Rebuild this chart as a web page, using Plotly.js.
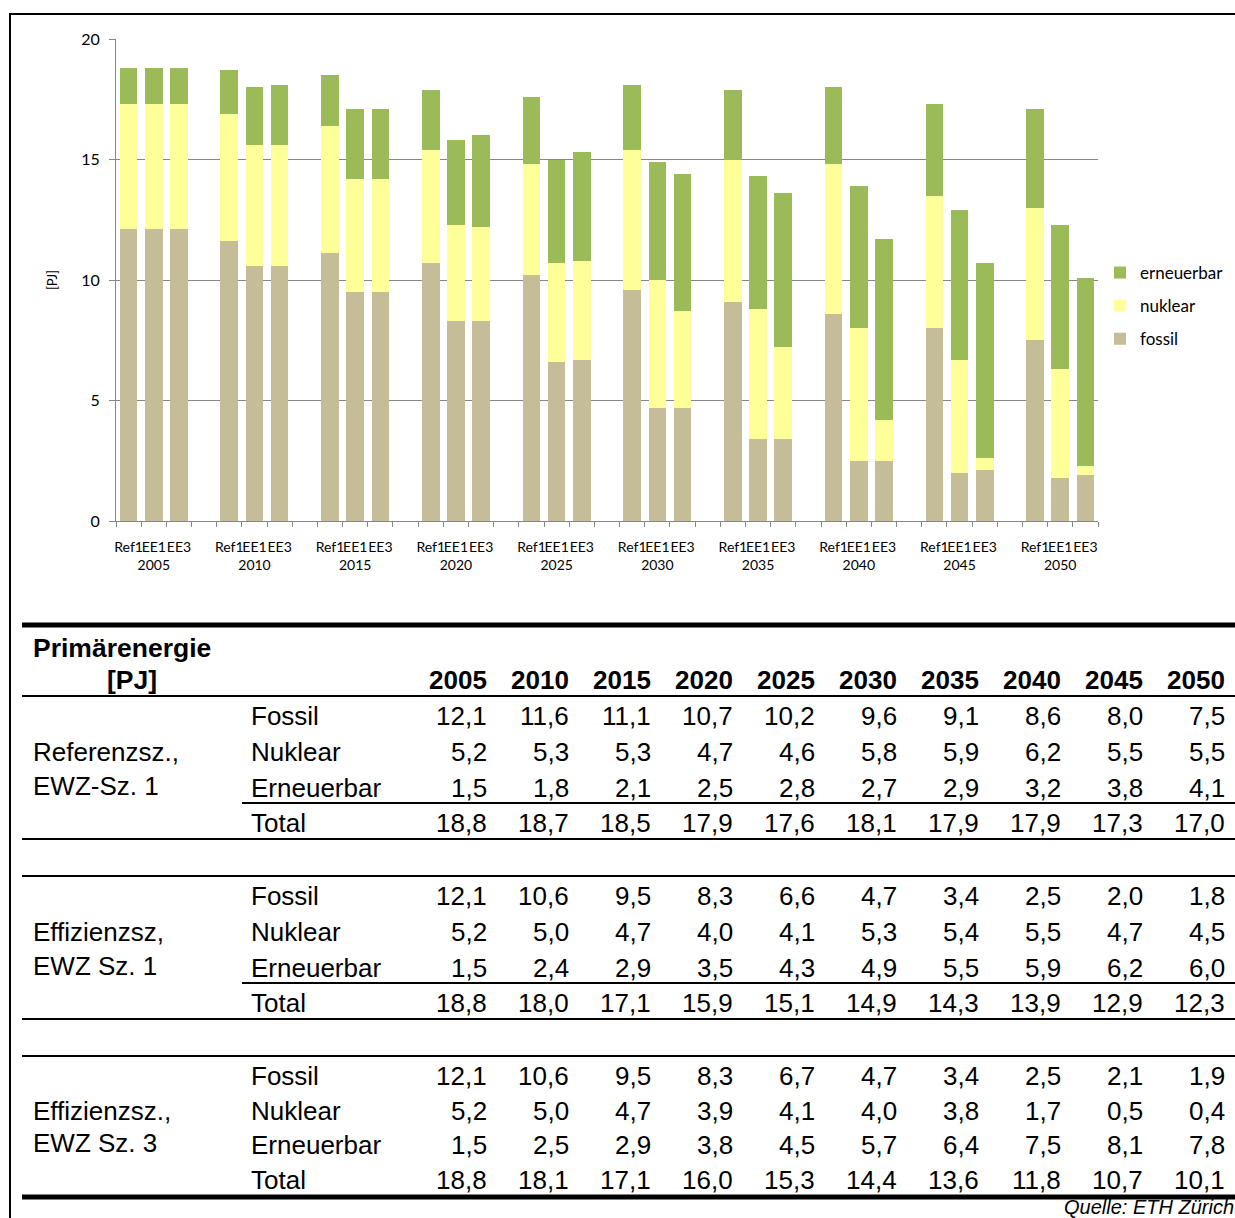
<!DOCTYPE html>
<html>
<head>
<meta charset="utf-8">
<script src="https://cdn.plot.ly/plotly-3.0.1.min.js"></script>
<style>html,body{margin:0;padding:0;background:#fff;}#chart{width:1235px;height:1218px;}</style>
</head>
<body>
<div id="chart"></div>
<script>
// ---------------- data ----------------
const years = ['2005','2010','2015','2020','2025','2030','2035','2040','2045','2050'];
const scenarios = ['Ref1','EE1','EE3'];
const seriesNames = ['fossil','nuklear','erneuerbar'];
const rowLabels = ['Fossil','Nuklear','Erneuerbar','Total'];
const blockLabels = [['Referenzsz.,','EWZ-Sz. 1'],['Effizienzsz,','EWZ Sz. 1'],['Effizienzsz.,','EWZ Sz. 3']];
const tableTitle = ['Primärenergie','[PJ]'];
const sourceNote = 'Quelle: ETH Zürich';

// Referenzszenario (Ref1)
const ref1Fossil     = [12.1, 11.6, 11.1, 10.7, 10.2, 9.6, 9.1, 8.6, 8.0, 7.5];
const ref1Nuklear    = [5.2, 5.3, 5.3, 4.7, 4.6, 5.8, 5.9, 6.2, 5.5, 5.5];
const ref1Erneuerbar = [1.5, 1.8, 2.1, 2.5, 2.8, 2.7, 2.9, 3.2, 3.8, 4.1];
const ref1Total      = [18.8, 18.7, 18.5, 17.9, 17.6, 18.1, 17.9, 17.9, 17.3, 17.0];
// Effizienzszenario, EWZ Sz. 1 (EE1)
const ee1Fossil      = [12.1, 10.6, 9.5, 8.3, 6.6, 4.7, 3.4, 2.5, 2.0, 1.8];
const ee1Nuklear     = [5.2, 5.0, 4.7, 4.0, 4.1, 5.3, 5.4, 5.5, 4.7, 4.5];
const ee1Erneuerbar  = [1.5, 2.4, 2.9, 3.5, 4.3, 4.9, 5.5, 5.9, 6.2, 6.0];
const ee1Total       = [18.8, 18.0, 17.1, 15.9, 15.1, 14.9, 14.3, 13.9, 12.9, 12.3];
// Effizienzszenario, EWZ Sz. 3 (EE3)
const ee3Fossil      = [12.1, 10.6, 9.5, 8.3, 6.7, 4.7, 3.4, 2.5, 2.1, 1.9];
const ee3Nuklear     = [5.2, 5.0, 4.7, 3.9, 4.1, 4.0, 3.8, 1.7, 0.5, 0.4];
const ee3Erneuerbar  = [1.5, 2.5, 2.9, 3.8, 4.5, 5.7, 6.4, 7.5, 8.1, 7.8];
const ee3Total       = [18.8, 18.1, 17.1, 16.0, 15.3, 14.4, 13.6, 11.8, 10.7, 10.1];

// ---------------- layout helpers ----------------
const W = 1235, H = 1218;
const px = x => x / W;
const py = y => 1 - y / H;
const FONT_CHART = 'Lato, "Open Sans", sans-serif';
const FONT_TABLE = '"Liberation Sans", Arial, sans-serif';
const GRAY = '#868686';
const colors = {fossil:'#C4BD97', nuklear:'#FFFF99', erneuerbar:'#9BBB59'};
const legendRanks = {erneuerbar:1, nuklear:2, fossil:3};

const bySeries = {
  fossil:     [ref1Fossil, ee1Fossil, ee3Fossil],
  nuklear:    [ref1Nuklear, ee1Nuklear, ee3Nuklear],
  erneuerbar: [ref1Erneuerbar, ee1Erneuerbar, ee3Erneuerbar]
};
const slotsPerGroup = scenarios.length + 1;
const slotCount = years.length * slotsPerGroup - 1;

// bar positions (category slot index)
const barX = [], barLabels = [];
years.forEach((yr, g) => scenarios.forEach((sc, s) => { barX.push(g * slotsPerGroup + s); barLabels.push(sc); }));
const groupCenters = years.map((yr, g) => g * slotsPerGroup + (scenarios.length - 1) / 2);
const boundaries = [];
for (let i = 0; i <= slotCount; i++) boundaries.push(i - 0.5);

const traces = seriesNames.map(name => {
  const y = [];
  years.forEach((yr, g) => scenarios.forEach((sc, s) => y.push(bySeries[name][s][g])));
  return {
    type: 'bar', name: name, x: barX, y: y, width: 0.7,
    marker: {color: colors[name], line: {width: 0}},
    legendgroup: name, legendrank: legendRanks[name], hoverinfo: 'y+name'
  };
});
// helper traces so the overlaid label axes exist
traces.push({type:'scatter', x:[], y:[], xaxis:'x2', yaxis:'y', showlegend:false, hoverinfo:'skip'});
traces.push({type:'scatter', x:[], y:[], xaxis:'x3', yaxis:'y', showlegend:false, hoverinfo:'skip'});

const xDomain = [px(116), px(1098)];
const xRange = [-0.5, slotCount - 0.5];

// ---------------- table ----------------
const fmt = v => v.toFixed(1).replace('.', ',');
const annotations = [];
const shapes = [];
const hline = (y, x0, x1, w) => shapes.push({type:'line', xref:'paper', yref:'paper', x0:px(x0), x1:px(x1), y0:py(y), y1:py(y), line:{color:'#000', width:w}});

// frame
hline(14, 9, 1235, 2);
shapes.push({type:'line', xref:'paper', yref:'paper', x0:px(10), x1:px(10), y0:py(14), y1:py(1218), line:{color:'#000', width:2}});

const TF = 26;
const colRight = i => 486.5 + 82 * i;
const txt = (text, x, y, anchor, opts = {}) => annotations.push(Object.assign({
  text: text, xref:'paper', yref:'paper', x:px(x), y:py(y), xanchor:anchor, yanchor:'middle',
  showarrow:false, borderpad:0, borderwidth:0, font:{family:FONT_TABLE, size:TF, color:'#000'}
}, opts));

// header
hline(625, 22, 1235, 5);
txt('<b>' + tableTitle[0] + '</b>', 33, 648, 'left', {font:{family:FONT_TABLE, size:26.5, color:'#000'}});
txt('<b>' + tableTitle[1] + '</b>', 107, 680, 'left', {font:{family:FONT_TABLE, size:26.5, color:'#000'}});
years.forEach((yr, i) => txt('<b>' + yr + '</b>', colRight(i), 680, 'right'));
hline(696, 22, 1235, 2);

const blocks = [
  [ref1Fossil, ref1Nuklear, ref1Erneuerbar, ref1Total],
  [ee1Fossil, ee1Nuklear, ee1Erneuerbar, ee1Total],
  [ee3Fossil, ee3Nuklear, ee3Erneuerbar, ee3Total]
];
const rowOffsetsStd = [20, 56, 92, 127];
const rowOffsetsLast = [20, 55, 89, 124];
blocks.forEach((rows, b) => {
  const top = 696 + 180 * b;
  const offs = b < 2 ? rowOffsetsStd : rowOffsetsLast;
  if (b > 0) hline(top, 22, 1235, 2);
  rows.forEach((vals, r) => {
    const y = top + offs[r];
    txt(rowLabels[r], 251, y, 'left');
    vals.forEach((v, i) => txt(fmt(v), colRight(i), y, 'right'));
  });
  txt(blockLabels[b][0], 33, top + offs[1], 'left');
  txt(blockLabels[b][1], 33, top + offs[2] - 2, 'left');
  if (b < 2) {
    hline(top + 107, 242, 1235, 2);
    hline(top + 143, 22, 1235, 2);
  } else {
    hline(top + 141, 22, 1235, 5);
  }
});
annotations.push({text:'<i>' + sourceNote + '</i>', xref:'paper', yref:'paper', x:px(1234), y:py(1218),
  xanchor:'right', yanchor:'bottom', showarrow:false, borderpad:0, borderwidth:0,
  font:{family:FONT_TABLE, size:20, color:'#000'}});

const layout = {
  width: W, height: H,
  margin: {l:0, r:0, t:0, b:0},
  paper_bgcolor:'#fff', plot_bgcolor:'#fff',
  barmode:'stack', bargap:0,
  showlegend:true,
  legend:{x:px(1100), y:py(255), xanchor:'left', yanchor:'top', traceorder:'grouped', tracegroupgap:8,
          font:{family:FONT_CHART, size:17, color:'#000'}, bgcolor:'rgba(0,0,0,0)'},
  xaxis:{domain:xDomain, range:xRange, tickmode:'array', tickvals:boundaries, showticklabels:false,
         ticks:'outside', ticklen:5, tickcolor:GRAY, tickwidth:1, showline:true, linecolor:GRAY, linewidth:1,
         showgrid:false, zeroline:false, fixedrange:true},
  xaxis2:{overlaying:'x', anchor:'y', side:'bottom', domain:xDomain, range:xRange, tickmode:'array',
          tickvals:barX, ticktext:barLabels, ticks:'', tickangle:0, showline:false, showgrid:false, zeroline:false,
          tickfont:{family:FONT_CHART, size:14, color:'#000'}, ticklabelstandoff:16, fixedrange:true},
  xaxis3:{overlaying:'x', anchor:'y', side:'bottom', domain:xDomain, range:xRange, tickmode:'array',
          tickvals:groupCenters, ticktext:years, ticks:'', tickangle:0, showline:false, showgrid:false, zeroline:false,
          tickfont:{family:FONT_CHART, size:14, color:'#000'}, ticklabelstandoff:34, fixedrange:true},
  yaxis:{domain:[py(521), py(39)], range:[0,20], dtick:5, tick0:0, ticks:'outside', ticklen:6, tickcolor:GRAY,
         showline:true, linecolor:GRAY, linewidth:1, showgrid:true, gridcolor:GRAY, gridwidth:1, zeroline:false,
         tickfont:{family:FONT_CHART, size:16, color:'#000'}, ticklabelstandoff:6,
         title:{text:'[PJ]', font:{family:FONT_CHART, size:13, color:'#000'}, standoff:20}, fixedrange:true},
  annotations: annotations,
  shapes: shapes
};

Plotly.newPlot('chart', traces, layout, {displayModeBar:false, staticPlot:true});
</script>
</body>
</html>
